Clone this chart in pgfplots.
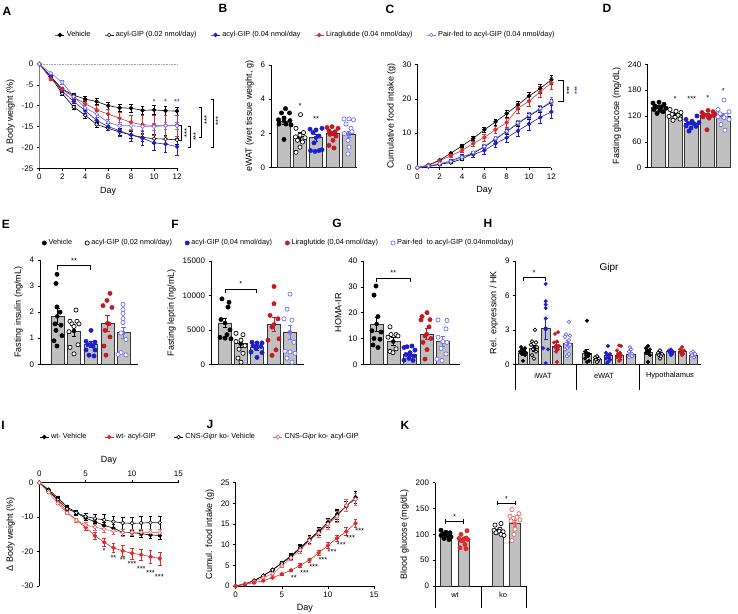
\documentclass[border=0pt]{standalone}
\usepackage{pgfplots}
\pgfplotsset{compat=1.18}
\usepackage{fontspec}
\setmainfont{Liberation Sans}
\definecolor{cblue}{RGB}{30,30,205}
\definecolor{cred}{RGB}{195,25,35}
\definecolor{lblue}{RGB}{110,110,245}
\definecolor{ired}{RGB}{220,45,45}
\definecolor{lred}{RGB}{235,100,100}
\definecolor{barg}{RGB}{192,192,192}
\newcommand{\tfs}{\fontsize{8}{9}\selectfont}
\newcommand{\sfs}{\fontsize{7.5}{8}\selectfont}
\newcommand{\lfs}{\fontsize{9}{10}\selectfont}
\newcommand{\gfs}{\fontsize{7.3}{8}\selectfont}
\newcommand{\pfs}{\fontsize{12}{13}\selectfont\bfseries}
\pgfplotsset{
  panel/.style={scale only axis, clip=false, anchor=south west,
    axis x line*=bottom, axis y line*=left,
    axis line style={line width=0.6pt}, tick style={line width=0.5pt, black},
    tick align=outside, major tick length=2.5pt,
    tick label style={font=\tfs}, label style={font=\lfs},
    /pgf/number format/assume math mode=true, /pgf/number format/1000 sep={},
    scaled y ticks=false, scaled x ticks=false},
  barpanel/.style={panel, ymin=0, xtick=\empty},
  dots/.style={only marks, color=#1, mark=*, mark size=2.2pt, mark options={draw=#1, fill=#1, line width=0.4pt}},
  odots/.style={only marks, color=#1, mark=*, mark size=2.1pt, mark options={draw=#1, fill=white, line width=0.7pt}},
  bars/.style={ybar, bar shift=0pt, bar width=#1, fill=barg, draw=black!80, line width=0.6pt, forget plot},
  ebar/.style={color=#1, only marks, mark=none, forget plot,
    /pgfplots/error bars/y dir=both, /pgfplots/error bars/y explicit,
    /pgfplots/error bars/error bar style={line width=0.6pt},
    /pgfplots/error bars/error mark options={rotate=90, mark size=2.2pt, line width=0.6pt}},
  ln/.style 2 args={color=#1, mark=*, mark size=1.9pt, line width=0.6pt, mark options={fill=#2, solid, line width=0.6pt},
    /pgfplots/error bars/y dir=both, /pgfplots/error bars/y explicit,
    /pgfplots/error bars/error bar style={line width=0.5pt},
    /pgfplots/error bars/error mark options={rotate=90, mark size=1.9pt, line width=0.5pt}},
}
\begin{document}
\begin{tikzpicture}[x=1pt,y=1pt]
% panel letters
\node[font=\pfs] at (7pt,602pt) {A};
\node[font=\pfs] at (223pt,605pt) {B};
\node[font=\pfs] at (390pt,604pt) {C};
\node[font=\pfs] at (607pt,605pt) {D};
\node[font=\pfs] at (6pt,389pt) {E};
\node[font=\pfs] at (175pt,389pt) {F};
\node[font=\pfs] at (337pt,390pt) {G};
\node[font=\pfs] at (488pt,390pt) {H};
\node[font=\pfs] at (3pt,188pt) {I};
\node[font=\pfs] at (210pt,189pt) {J};
\node[font=\pfs] at (405pt,188pt) {K};

% ---------------- A ----------------
\begin{axis}[panel, at={(39.3pt,444.7pt)}, width=137.7pt, height=104.3pt,
  xmin=0, xmax=12, ymin=-25, ymax=0, xtick={0,2,...,12}, ytick={-25,-20,...,0},
  xlabel={Day}, ylabel={Δ Body weight (\%)},
  y axis line style={gray, line width=1.2pt},
  legend style={draw=none, fill=none, font=\gfs, anchor=west, at={(0.114,1.278)}, inner sep=0pt,
    /tikz/every even column/.append style={column sep=12pt}},
  legend columns=-1,
  legend image code/.code={\draw[mark repeat=2,mark phase=2,#1] plot coordinates {(0pt,0pt) (4.5pt,0pt) (9pt,0pt)};}]
\addplot[gray!70, densely dotted, line width=0.6pt, forget plot] coordinates {(0,0) (12,0)};
\addplot[ln={black}{black}] coordinates {(0,0)+-(0,0) (1,-3)+-(0,0.3) (2,-6)+-(0,0.4) (3,-7.5)+-(0,0.6) (4,-8.4)+-(0,0.6) (5,-9)+-(0,0.7) (6,-10)+-(0,0.8) (7,-10.5)+-(0,0.8) (8,-10.6)+-(0,0.9) (9,-11.1)+-(0,0.9) (10,-11)+-(0,1) (11,-11.2)+-(0,1) (12,-11.3)+-(0,1)};
\addlegendentry{Vehicle}
\addplot[ln={black}{white}] coordinates {(0,0)+-(0,0) (1,-3.1)+-(0,0.3) (2,-7.1)+-(0,0.4) (3,-10.3)+-(0,0.5) (4,-12.3)+-(0,0.6) (5,-14.5)+-(0,0.6) (6,-15.4)+-(0,0.6) (7,-16.3)+-(0,0.8) (8,-17)+-(0,0.8) (9,-17.6)+-(0,0.9) (10,-17.9)+-(0,1) (11,-18)+-(0,1) (12,-18.2)+-(0,1)};
\addlegendentry{acyl-GIP (0.02 nmol/day)}
\addplot[ln={cblue}{cblue}] coordinates {(0,0)+-(0,0) (1,-3)+-(0,0.3) (2,-6.5)+-(0,0.4) (3,-9)+-(0,0.5) (4,-11.2)+-(0,0.7) (5,-13.5)+-(0,0.8) (6,-15)+-(0,0.9) (7,-16)+-(0,1.2) (8,-17)+-(0,1.4) (9,-17.8)+-(0,1.6) (10,-18.9)+-(0,1.8) (11,-19.2)+-(0,1.9) (12,-19.8)+-(0,2)};
\addlegendentry{acyl-GIP (0.04 nmol/day}
\addplot[ln={ired}{ired}] coordinates {(0,0)+-(0,0) (1,-3.6)+-(0,0.3) (2,-6)+-(0,0.4) (3,-8)+-(0,0.6) (4,-9.5)+-(0,0.8) (5,-11)+-(0,1) (6,-12)+-(0,1.2) (7,-13)+-(0,1.5) (8,-14)+-(0,1.8) (9,-14.6)+-(0,2.2) (10,-14.7)+-(0,2.4) (11,-14.7)+-(0,2.5) (12,-14.7)+-(0,2.5)};
\addlegendentry{Liraglutide (0.04 nmol/day)}
\addplot[ln={lblue}{white}] coordinates {(0,0)+-(0,0) (1,-2.2)+-(0,0.3) (2,-4.4)+-(0,0.4) (3,-7.8)+-(0,0.5) (4,-10.5)+-(0,0.6) (5,-12)+-(0,0.7) (6,-14)+-(0,0.7) (7,-14.8)+-(0,0.8) (8,-14.8)+-(0,0.8) (9,-15)+-(0,0.8) (10,-15)+-(0,0.8) (11,-14.8)+-(0,0.8) (12,-14.8)+-(0,0.8)};
\addlegendentry{Pair-fed to acyl-GIP (0.04 nmol/day)}
\node[cblue, font=\sfs] at (axis cs:10,-9.2) {*};
\node[cblue, font=\sfs] at (axis cs:11,-9.2) {*};
\node[cblue, font=\sfs] at (axis cs:12,-9.2) {**};
\draw[line width=0.5pt] (axis cs:12.2,-14.8) -- (axis cs:12.41,-14.8) -- (axis cs:12.41,-18.2) -- (axis cs:12.2,-18.2);
\node[rotate=90, font=\sfs] at (axis cs:12.85,-16.5) {***};
\draw[line width=0.5pt] (axis cs:12.98,-15) -- (axis cs:13.19,-15) -- (axis cs:13.19,-19.9) -- (axis cs:12.98,-19.9);
\node[rotate=90, font=\sfs] at (axis cs:13.63,-17.4) {***};
\draw[line width=0.5pt] (axis cs:13.94,-10.4) -- (axis cs:14.15,-10.4) -- (axis cs:14.15,-17.6) -- (axis cs:13.94,-17.6);
\node[rotate=90, font=\sfs] at (axis cs:14.6,-13.5) {***};
\draw[line width=0.5pt] (axis cs:14.93,-8.4) -- (axis cs:15.14,-8.4) -- (axis cs:15.14,-19.9) -- (axis cs:14.93,-19.9);
\node[rotate=90, font=\sfs] at (axis cs:15.6,-13.6) {***};
\end{axis}

% ---------------- B ----------------
\begin{axis}[barpanel, at={(271pt,445.3pt)}, width=85.7pt, height=102.7pt,
  xmin=271, xmax=356.7, ymax=6, ytick={0,2,4,6}, ylabel={eWAT (wet tissue weight, g)}]
\addplot[bars=13pt] coordinates {(284,2.73) (300,1.82) (316,1.75) (332.7,2.0) (348.7,1.95)};
\addplot[ebar=black] coordinates {(284,2.73)+-(0,0.17) (300,1.82)+-(0,0.22)};
\addplot[ebar=cblue] coordinates {(316,1.75)+-(0,0.18)};
\addplot[ebar=cred] coordinates {(332.7,2.0)+-(0,0.12)};
\addplot[ebar=lblue] coordinates {(348.7,1.95)+-(0,0.2)};
\addplot[dots=black] coordinates {(285.5,3.45) (281.5,3.2) (289.5,3.2) (278.5,2.8) (284,2.9) (290,2.75) (279,2.55) (286,2.55) (291,2.5) (284,1.65)};
\addplot[odots=black] coordinates {(300.5,3.1) (296,2.3) (303.5,2.05) (295.5,1.8) (300,1.9) (305,1.75) (297.5,1.6) (302.5,1.5) (300,1.2) (296,0.9)};
\addplot[dots=cblue] coordinates {(310,2.25) (316,2.2) (322,2.3) (313,2.05) (319,1.85) (314,1.45) (310.5,1.0) (315,0.95) (319,1.0) (322,1.05)};
\addplot[dots=cred] coordinates {(327,2.35) (332,2.4) (338,2.3) (329,2.15) (335,2.1) (330,1.95) (336,1.85) (333,1.6) (329,1.3) (334,1.15)};
\addplot[odots=lblue] coordinates {(344,2.85) (349,2.85) (353.5,2.8) (346,2.55) (351,2.3) (344.5,2.0) (352,2.1) (348,1.6) (349,1.2) (348,0.8)};
\node[font=\sfs] at (axis cs:300,3.6) {*};
\node[font=\sfs] at (axis cs:316,2.85) {**};
\end{axis}

% ---------------- C ----------------
\begin{axis}[panel, at={(417.3pt,445.3pt)}, width=134.1pt, height=103.4pt,
  xmin=0, xmax=12, ymin=0, ymax=30, xtick={0,2,...,12}, ytick={0,10,20,30},
  xlabel={Day}, ylabel={Cumulative food intake (g)}]
\addplot[ln={black}{black}] coordinates {(0,0)+-(0,0) (1,0.8)+-(0,0.1) (2,2.2)+-(0,0.2) (3,4.2)+-(0,0.4) (4,6.3)+-(0,0.5) (5,8.5)+-(0,0.6) (6,11)+-(0,0.8) (7,13.3)+-(0,0.9) (8,15.7)+-(0,1) (9,18.2)+-(0,1.1) (10,20.8)+-(0,1.2) (11,23)+-(0,1.3) (12,25.5)+-(0,1.4)};
\addplot[ln={black}{white}] coordinates {(0,0)+-(0,0) (1,0.5)+-(0,0.1) (2,1)+-(0,0.1) (3,1.5)+-(0,0.2) (4,2.5)+-(0,0.3) (5,4.2)+-(0,0.4) (6,6)+-(0,0.5) (7,8.3)+-(0,0.6) (8,10.5)+-(0,0.7) (9,12.8)+-(0,0.8) (10,15)+-(0,0.8) (11,17)+-(0,0.9) (12,19)+-(0,1)};
\addplot[ln={cblue}{cblue}] coordinates {(0,0)+-(0,0) (1,0.3)+-(0,0.1) (2,1)+-(0,0.3) (3,2)+-(0,0.4) (4,3.3)+-(0,0.6) (5,3.8)+-(0,0.8) (6,5)+-(0,1) (7,7)+-(0,1.2) (8,8.7)+-(0,1.3) (9,10.7)+-(0,1.5) (10,12.7)+-(0,1.8) (11,14.6)+-(0,1.8) (12,16.2)+-(0,1.9)};
\addplot[ln={ired}{ired}] coordinates {(0,0)+-(0,0) (1,0.7)+-(0,0.1) (2,2)+-(0,0.2) (3,3.5)+-(0,0.4) (4,5)+-(0,0.6) (5,7)+-(0,0.8) (6,8.8)+-(0,1) (7,11)+-(0,1.1) (8,13.1)+-(0,1.3) (9,17.2)+-(0,1.4) (10,19.3)+-(0,1.5) (11,22)+-(0,1.6) (12,24.6)+-(0,1.7)};
\addplot[ln={lblue}{white}] coordinates {(0,0)+-(0,0) (1,0.5)+-(0,0.1) (2,1.2)+-(0,0.1) (3,1.8)+-(0,0.2) (4,3)+-(0,0.3) (5,4.4)+-(0,0.4) (6,6.2)+-(0,0.5) (7,8.5)+-(0,0.6) (8,10.6)+-(0,0.7) (9,13)+-(0,0.8) (10,15.2)+-(0,0.9) (11,17.2)+-(0,0.9) (12,19.3)+-(0,1)};
\draw[line width=0.5pt] (axis cs:12.55,25.4) -- (axis cs:13.04,25.4) -- (axis cs:13.04,19.4) -- (axis cs:12.55,19.4);
\node[rotate=90, font=\sfs] at (axis cs:13.6,22.4) {***};
\node[rotate=90, font=\sfs, cblue] at (axis cs:14.3,22.4) {***};
\end{axis}

% ---------------- D ----------------
\begin{axis}[barpanel, at={(647.3pt,445.3pt)}, width=82.7pt, height=103.4pt,
  xmin=647.3, xmax=730, ymax=240, ytick={0,60,...,240}, ylabel={Fasting glucose (mg/dL)}]
\addplot[bars=14pt] coordinates {(658.3,141) (675,122) (691.7,104) (707.7,122) (723.3,120)};
\addplot[ebar=black] coordinates {(658.3,141)+-(0,3) (675,122)+-(0,3)};
\addplot[ebar=cblue] coordinates {(691.7,104)+-(0,4)};
\addplot[ebar=cred] coordinates {(707.7,122)+-(0,4)};
\addplot[ebar=lblue] coordinates {(723.3,120)+-(0,6)};
\addplot[dots=black] coordinates {(653,150) (659,152) (664,147) (655,143) (661,141) (666,138) (654,135) (660,133) (657,126) (663,130)};
\addplot[odots=black] coordinates {(670,135) (676,131) (681,128) (672,124) (678,122) (669,119) (675,117) (680,113) (673,110)};
\addplot[dots=cblue] coordinates {(686,112) (692,108) (697,120) (688,103) (694,102) (699,105) (686,97) (691,92) (696,96) (689,85)};
\addplot[dots=cred] coordinates {(702,128) (708,133) (713,130) (704,123) (710,120) (715,125) (703,118) (709,115) (714,121) (707,88)};
\addplot[odots=lblue] coordinates {(718,135) (724,157) (729,130) (720,125) (726,122) (718,118) (724,116) (729,112) (721,100) (725,87)};
\node[font=\sfs] at (axis cs:675,159) {*};
\node[font=\sfs] at (axis cs:691.7,159) {***};
\node[font=\sfs] at (axis cs:707.7,161) {*};
\node[font=\sfs] at (axis cs:723.3,179) {*};
\end{axis}

% ---------------- E ----------------
\begin{axis}[barpanel, at={(40pt,248.7pt)}, width=98pt, height=104.3pt,
  xmin=40, xmax=138, ymax=4, ytick={0,1,2,3,4}, ylabel={Fasting insulin (ng/mL)},
  legend style={draw=none, fill=none, font=\gfs, anchor=west, at={(0.02,1.163)}, inner sep=0pt,
    /tikz/every even column/.append style={column sep=11pt}},
  legend columns=-1]
\addplot[bars=13pt] coordinates {(57.3,1.84) (74,1.28) (90.7,0.77) (107.3,1.57) (123.3,1.21)};
\addplot[ebar=black] coordinates {(57.3,1.84)+-(0,0.32) (74,1.28)+-(0,0.2)};
\addplot[ebar=cblue] coordinates {(90.7,0.77)+-(0,0.1)};
\addplot[ebar=cred] coordinates {(107.3,1.57)+-(0,0.3)};
\addplot[ebar=lblue] coordinates {(123.3,1.21)+-(0,0.22)};
\addplot[dots=black] coordinates {(57,3.45) (56,3.1) (57,2.2) (60,2.0) (55,1.55) (61,1.5) (56,1.3) (62,1.1) (54,0.9) (57,0.7)};
\addlegendentry{Vehicle}
\addplot[odots=black] coordinates {(76,2.08) (70,1.65) (77,1.65) (72,1.55) (79,1.55) (74,1.45) (69,1.25) (78,0.75) (70,0.65) (74,0.4)};
\addlegendentry{acyl-GIP (0,02 nmol/day)}
\addplot[dots=cblue] coordinates {(91,1.3) (86,0.88) (95,0.85) (88,0.75) (93,0.7) (86,0.55) (95,0.55) (89,0.35) (94,0.32)};
\addlegendentry{acyl-GIP (0,04 nmol/day)}
\addplot[dots=cred] coordinates {(110,2.72) (107,2.45) (103,2.25) (112,2.18) (109,1.55) (105,1.3) (110,1.05) (104,0.7) (106,0.35)};
\addlegendentry{Liraglutide (0,04 nmol/day)}
\addplot[odots=lblue] coordinates {(123,2.3) (123,2.1) (123,1.95) (123,1.75) (123,1.6) (121,1.2) (126,0.95) (121,0.45) (118,0.38) (126,0.36)};
\addlegendentry{Pair-fed\ \ to acyl-GIP (0.04nmol/day)}
\draw[line width=0.5pt] (axis cs:57.3,3.62) -- (axis cs:57.3,3.78) -- (axis cs:90.7,3.78) -- (axis cs:90.7,3.62);
\node[font=\sfs] at (axis cs:74,3.98) {**};
\end{axis}

% ---------------- F ----------------
\begin{axis}[barpanel, at={(211pt,248.7pt)}, width=93pt, height=103.3pt,
  xmin=211, xmax=304, ymax=15000, ytick={0,5000,10000,15000}, ylabel={Fasting leptin (ng/mL)}]
\addplot[bars=13pt] coordinates {(225,6000) (240.7,3000) (256.7,2400) (274,5800) (290,4650)};
\addplot[ebar=black] coordinates {(225,6000)+-(0,700) (240.7,3000)+-(0,500)};
\addplot[ebar=cblue] coordinates {(256.7,2400)+-(0,300)};
\addplot[ebar=cred] coordinates {(274,5800)+-(0,1000)};
\addplot[ebar=lblue] coordinates {(290,4650)+-(0,1000)};
\addplot[dots=black] coordinates {(222,9500) (229,9000) (228,8300) (221,6500) (230,5000) (227,4300) (220,3900) (225,3800) (231,3700)};
\addplot[odots=black] coordinates {(236,4500) (243,4300) (241,3500) (236,3300) (245,2700) (239,2200) (243,1600) (238,900) (241,300)};
\addplot[dots=cblue] coordinates {(252,3200) (257,3100) (262,3100) (253,2700) (261,2600) (256,2300) (251,1800) (262,1700) (257,1000)};
\addplot[dots=cred] coordinates {(274,11300) (274,8800) (270,7100) (278,6600) (272,5400) (279,3700) (268,3500) (276,2100) (272,1300)};
\addplot[odots=lblue] coordinates {(290,10200) (287,8000) (284,6600) (292,6400) (294,3200) (285,1900) (290,1800) (295,1600) (287,900) (292,300)};
\draw[line width=0.5pt] (axis cs:225,10400) -- (axis cs:225,10900) -- (axis cs:256.7,10900) -- (axis cs:256.7,10400);
\node[font=\sfs] at (axis cs:240.8,11700) {*};
\end{axis}

% ---------------- G ----------------
\begin{axis}[barpanel, at={(363.3pt,248.7pt)}, width=96.7pt, height=103.3pt,
  xmin=363.3, xmax=460, ymax=40, ytick={0,10,20,30,40}, ylabel={HOMA-IR}]
\addplot[bars=13pt] coordinates {(376.7,15.6) (393.3,8.8) (410,3.9) (426.7,11.7) (442.7,8.8)};
\addplot[ebar=black] coordinates {(376.7,15.6)+-(0,2.7) (393.3,8.8)+-(0,1.5)};
\addplot[ebar=cblue] coordinates {(410,3.9)+-(0,0.7)};
\addplot[ebar=cred] coordinates {(426.7,11.7)+-(0,2.2)};
\addplot[ebar=lblue] coordinates {(442.7,8.8)+-(0,2)};
\addplot[dots=black] coordinates {(376,30.3) (374,26.8) (378,18.5) (372,13) (381,12.5) (374,10) (380,9.7) (373,7.5) (378,6.5)};
\addplot[odots=black] coordinates {(390,14.5) (396,11.5) (391,11.5) (398,11) (388,10.5) (396,6) (390,5) (393,4.5)};
\addplot[dots=cblue] coordinates {(412,7.1) (407,6.8) (404,6.5) (415,5.5) (410,4.5) (406,3.8) (414,3.2) (409,2.3) (404,1.6) (413,1.5)};
\addplot[dots=cred] coordinates {(427,20) (422,18.5) (430,17.3) (421,17.2) (429,14.5) (425,11) (431,10) (423,8.5) (427,5.7) (425,2)};
\addplot[odots=lblue] coordinates {(438,17.2) (447,17) (446,13.7) (438,10.5) (443,8.8) (447,8.5) (441,6.2) (446,4) (437,2) (442,1.5)};
\draw[line width=0.5pt] (axis cs:376.7,32) -- (axis cs:376.7,33.3) -- (axis cs:410,33.3) -- (axis cs:410,32);
\node[font=\sfs] at (axis cs:393.3,35.3) {**};
\end{axis}

% ---------------- H ----------------
\begin{axis}[barpanel, at={(515.7pt,248.7pt)}, width=185pt, height=103.3pt,
  xmin=515.7, xmax=700.7, ymax=9, ytick={0,3,6,9}, ylabel={Rel. expression / HK},
  dots/.append style={mark size=1.8pt}, odots/.append style={mark size=1.8pt}]
\addplot[bars=8.7pt] coordinates {(523,1.0) (534,1.4) (545.7,3.1) (556.7,1.6) (567.7,1.8) (586.7,0.95) (597.3,0.45) (608.3,0.75) (619.3,0.8) (630.7,0.85) (648.3,1.05) (660,0.85) (671,1.1) (682.3,1.1) (693.3,0.8)};
\addplot[ebar=black] coordinates {(523,1.0)+-(0,0.1) (534,1.4)+-(0,0.25) (586.7,0.95)+-(0,0.35) (597.3,0.45)+-(0,0.1) (648.3,1.05)+-(0,0.15) (660,0.85)+-(0,0.1)};
\addplot[ebar=cblue] coordinates {(545.7,3.1)+-(0,0.9) (608.3,0.75)+-(0,0.15) (671,1.1)+-(0,0.05)};
\addplot[ebar=cred] coordinates {(556.7,1.6)+-(0,0.3) (619.3,0.8)+-(0,0.15) (682.3,1.1)+-(0,0.1)};
\addplot[ebar=lblue] coordinates {(567.7,1.8)+-(0,0.3) (630.7,0.85)+-(0,0.1) (693.3,0.8)+-(0,0.05)};
\addplot[dots=black] coordinates {(521,1.5) (525,1.4) (522,1.3) (524,1.2) (520,1.1) (526,1.0) (522,0.9) (525,0.8) (523,0.3)
  (587,3.8) (585,1.1) (589,0.9) (586,0.8) (588,0.7) (585,0.5) (589,0.3) (587,0.2)
  (648,1.6) (646,1.4) (650,1.3) (647,1.2) (649,1.1) (646,1.0) (650,0.8) (648,0.2)};
\addplot[odots=black] coordinates {(535,3.0) (532,2.0) (536,1.9) (531,1.7) (537,1.5) (533,1.3) (536,1.1) (532,0.8) (534,0.5)
  (597,0.7) (595,0.6) (599,0.5) (596,0.4) (598,0.3) (597,0.2)
  (660,1.2) (658,1.0) (662,0.9) (659,0.8) (661,0.7) (660,0.5)};
\addplot[dots=cblue] coordinates {(545.7,7.0) (545.7,5.5) (545.7,5.2) (545.7,4.9) (545.7,4.0) (543,1.4) (548,1.3) (545.7,0.1)
  (608,1.6) (606,1.0) (610,0.9) (607,0.8) (609,0.6) (606,0.5) (610,0.4) (608,0.2) (607,0.1)
  (671,1.3) (669,1.2) (673,1.1) (670,1.0) (672,0.9) (671,0.8)};
\addplot[dots=cred] coordinates {(558,2.8) (555,2.65) (557,2.0) (554,1.9) (559,1.6) (555,1.5) (558,1.3) (556,1.1) (557,0.2)
  (619,1.65) (621,1.6) (617,1.2) (620,1.0) (618,0.9) (621,0.8) (617,0.6) (620,0.4) (619,0.3)
  (682,1.5) (680,1.3) (684,1.2) (681,1.0) (683,0.9) (682,0.8)};
\addplot[odots=lblue] coordinates {(569,3.7) (566,2.6) (570,2.5) (565,2.4) (569,2.1) (566,1.8) (570,1.7) (567,1.4) (565,1.3) (569,0.9) (567,0.7)
  (630,1.5) (631,1.3) (629,1.1) (632,0.9) (630,0.8) (632,0.7) (629,0.6)
  (693,1.1) (691,1.0) (695,0.9) (692,0.8) (694,0.6)};
\draw[line width=0.6pt] (axis cs:515.7,0) -- (axis cs:515.7,-2.24);
\draw[line width=0.6pt] (axis cs:576.7,0) -- (axis cs:576.7,-2.24);
\draw[line width=0.6pt] (axis cs:639.3,0) -- (axis cs:639.3,-2.24);
\node[font=\sfs] at (axis cs:543,-1.0) {iWAT};
\node[font=\sfs] at (axis cs:604,-1.0) {eWAT};
\node[font=\sfs] at (axis cs:670,-1.0) {Hypothalamus};
\node[font=\fontsize{10}{11}\selectfont] at (axis cs:609,8.4) {Gipr};
\draw[line width=0.5pt] (axis cs:523,7.3) -- (axis cs:523,7.6) -- (axis cs:545.7,7.6) -- (axis cs:545.7,7.3);
\node[font=\sfs] at (axis cs:534,8.0) {*};
\end{axis}

% ---------------- I ----------------
\begin{axis}[panel, at={(39.3pt,27pt)}, width=139pt, height=103.3pt,
  axis x line*=top, xmin=0, xmax=15, ymin=-30, ymax=0, xtick={0,5,10,15}, ytick={-30,-20,-10,0},
  xlabel={Day}, ylabel={Δ Body weight (\%)},
  legend style={draw=none, fill=none, font=\gfs, anchor=west, at={(0.0,1.442)}, inner sep=0pt,
    /tikz/every even column/.append style={column sep=16pt}},
  legend columns=-1,
  legend image code/.code={\draw[mark repeat=2,mark phase=2,#1] plot coordinates {(0pt,0pt) (4.5pt,0pt) (9pt,0pt)};}]
\addplot[ln={black}{black}] coordinates {(0,0)+-(0,0) (1,-2)+-(0,0.3) (2,-4.4)+-(0,0.4) (3,-7)+-(0,0.5) (4,-8.7)+-(0,0.6) (5,-10.3)+-(0,0.7) (6,-11.3)+-(0,0.8) (7,-12.4)+-(0,0.9) (8,-13.2)+-(0,1) (9,-14.4)+-(0,1) (10,-14.5)+-(0,1) (11,-14.8)+-(0,1) (12,-15.2)+-(0,1) (13,-15.3)+-(0,1)};
\addlegendentry{wt- Vehicle}
\addplot[ln={ired}{ired}] coordinates {(0,0)+-(0,0) (1,-2.5)+-(0,0.3) (2,-5.2)+-(0,0.4) (3,-8.6)+-(0,0.6) (4,-10.9)+-(0,0.7) (5,-13)+-(0,0.8) (6,-15.4)+-(0,1) (7,-17.3)+-(0,1.2) (8,-18.9)+-(0,1.4) (9,-19.8)+-(0,1.5) (10,-20.5)+-(0,1.6) (11,-20.9)+-(0,1.7) (12,-21.5)+-(0,1.8) (13,-22)+-(0,1.9)};
\addlegendentry{wt- acyl-GIP}
\addplot[ln={black}{white}] coordinates {(0,0)+-(0,0) (1,-2.3)+-(0,0.3) (2,-4.9)+-(0,0.4) (3,-7.6)+-(0,0.6) (4,-8.7)+-(0,0.8) (5,-9.8)+-(0,1) (6,-10.4)+-(0,1.3) (7,-10.8)+-(0,1.5) (8,-11.3)+-(0,1.7) (9,-11.7)+-(0,1.8) (10,-11.8)+-(0,1.9) (11,-11.7)+-(0,2) (12,-11.6)+-(0,2) (13,-11.6)+-(0,2)};
\addlegendentry{CNS-\textit{Gipr} ko- Vehicle}
\addplot[ln={lred}{white}] coordinates {(0,0)+-(0,0) (1,-2.8)+-(0,0.3) (2,-6)+-(0,0.4) (3,-8.8)+-(0,0.5) (4,-10.9)+-(0,0.6) (5,-12.3)+-(0,0.7) (6,-12.9)+-(0,0.8) (7,-13.5)+-(0,0.9) (8,-14)+-(0,1) (9,-14.5)+-(0,1) (10,-14.4)+-(0,1) (11,-14.4)+-(0,1) (12,-14.4)+-(0,1) (13,-14.5)+-(0,1)};
\addlegendentry{CNS-\textit{Gipr} ko- acyl-GIP}
\node[font=\sfs] at (axis cs:7,-19.8) {*};
\node[font=\sfs] at (axis cs:8,-21.7) {**};
\node[font=\sfs] at (axis cs:9,-22.5) {**};
\node[font=\sfs] at (axis cs:10,-23.6) {***};
\node[font=\sfs] at (axis cs:11,-24.9) {***};
\node[font=\sfs] at (axis cs:12,-26.2) {***};
\node[font=\sfs] at (axis cs:12.95,-27.5) {***};
\end{axis}

% ---------------- J ----------------
\begin{axis}[panel, at={(235.7pt,27pt)}, width=138.3pt, height=103.3pt,
  xmin=0, xmax=15, ymin=0, ymax=25, xtick={0,5,10,15}, ytick={0,5,...,25},
  xlabel={Day}, ylabel={Cumul. food intake (g)}]
\addplot[ln={black}{black}] coordinates {(0,0)+-(0,0) (1,0.5)+-(0,0.1) (2,1.3)+-(0,0.1) (3,2.5)+-(0,0.2) (4,3.9)+-(0,0.3) (5,5.6)+-(0,0.4) (6,7.3)+-(0,0.6) (7,9.3)+-(0,0.8) (8,11.3)+-(0,0.9) (9,13.3)+-(0,1) (10,15.4)+-(0,1.1) (11,17.4)+-(0,1.2) (12,19.3)+-(0,1.3) (13,21.5)+-(0,1.5)};
\addplot[ln={black}{white}] coordinates {(0,0)+-(0,0) (1,0.5)+-(0,0.1) (2,1.3)+-(0,0.1) (3,2.5)+-(0,0.2) (4,3.9)+-(0,0.3) (5,5.5)+-(0,0.4) (6,7.1)+-(0,0.6) (7,9.1)+-(0,0.8) (8,11.1)+-(0,1) (9,13)+-(0,1.1) (10,15)+-(0,1.2) (11,17)+-(0,1.3) (12,19.5)+-(0,1.4) (13,21)+-(0,1.5)};
\addplot[ln={lred}{white}] coordinates {(0,0)+-(0,0) (1,0.5)+-(0,0.1) (2,1.1)+-(0,0.1) (3,2)+-(0,0.2) (4,3)+-(0,0.3) (5,4.9)+-(0,0.4) (6,6.8)+-(0,0.6) (7,8.7)+-(0,0.8) (8,11)+-(0,1) (9,12.8)+-(0,1.1) (10,15)+-(0,1.2) (11,16.8)+-(0,1.3) (12,19.5)+-(0,1.4) (13,21)+-(0,1.5)};
\addplot[ln={ired}{ired}] coordinates {(0,0)+-(0,0) (1,0.4)+-(0,0.1) (2,0.8)+-(0,0.1) (3,1.3)+-(0,0.1) (4,2)+-(0,0.2) (5,2.9)+-(0,0.2) (6,3.8)+-(0,0.3) (7,5)+-(0,0.4) (8,6.3)+-(0,0.5) (9,8)+-(0,0.6) (10,9.8)+-(0,0.7) (11,11.6)+-(0,0.8) (12,13.2)+-(0,0.9) (13,15.2)+-(0,1)};
\node[font=\sfs, anchor=west] at (axis cs:5.6,2.0) {**};
\node[font=\sfs, anchor=west] at (axis cs:6.6,3.2) {***};
\node[font=\sfs, anchor=west] at (axis cs:7.6,4.7) {***};
\node[font=\sfs, anchor=west] at (axis cs:8.6,6.4) {***};
\node[font=\sfs, anchor=west] at (axis cs:9.6,8.2) {***};
\node[font=\sfs, anchor=west] at (axis cs:10.6,10.0) {***};
\node[font=\sfs, anchor=west] at (axis cs:11.6,11.6) {***};
\node[font=\sfs, anchor=west] at (axis cs:12.6,13.4) {***};
\end{axis}

% ---------------- K ----------------
\begin{axis}[barpanel, at={(435pt,27pt)}, width=91pt, height=103.3pt,
  xmin=435, xmax=526, ymax=200, ytick={0,50,...,200}, ylabel={Blood glucose (mg/dL)}]
\addplot[bars=11pt] coordinates {(445.7,100) (463.3,89) (497.7,107) (515,121)};
\addplot[ebar=black] coordinates {(445.7,100)+-(0,2) (497.7,107)+-(0,2)};
\addplot[ebar=ired] coordinates {(463.3,89)+-(0,4)};
\addplot[ebar=lred] coordinates {(515,121)+-(0,6)};
\addplot[dots=black] coordinates {(441,108) (446,104) (450,103) (443,101) (448,100) (441,98) (447,97) (451,95) (444,92) (449,90)};
\addplot[dots=ired] coordinates {(467,107) (461,100) (466,93) (459,92) (464,91) (468,90) (461,88) (465,80) (460,74) (466,72)};
\addplot[odots=black] coordinates {(501,121) (495,118) (500,110) (494,108) (499,106) (503,105) (496,103) (501,100) (504,98)};
\addplot[odots=lred] coordinates {(512,148) (519,140) (510,135) (517,133) (513,131) (520,128) (511,126) (515,110) (514,100) (512,88)};
\draw[line width=0.5pt] (axis cs:445.7,121) -- (axis cs:445.7,129);
\draw[line width=0.5pt] (axis cs:463.3,121) -- (axis cs:463.3,129);
\draw[line width=0.5pt] (axis cs:445.7,125) -- (axis cs:463.3,125);
\node[font=\sfs] at (axis cs:454.5,134) {*};
\draw[line width=0.5pt] (axis cs:497.7,156) -- (axis cs:497.7,164);
\draw[line width=0.5pt] (axis cs:515,156) -- (axis cs:515,164);
\draw[line width=0.5pt] (axis cs:497.7,160) -- (axis cs:515,160);
\node[font=\sfs] at (axis cs:506.3,169) {*};
\draw[line width=0.6pt] (axis cs:435,0) -- (axis cs:435,-42.6);
\draw[line width=0.6pt] (axis cs:481.7,0) -- (axis cs:481.7,-42.6);
\draw[line width=0.6pt] (axis cs:526,0) -- (axis cs:526,-42.6);
\node[font=\sfs] at (axis cs:455,-17.4) {wt};
\node[font=\sfs] at (axis cs:503,-17.4) {ko};
\end{axis}

\pgfresetboundingbox
\path[use as bounding box] (0pt,0pt) rectangle (738pt,613pt);
\end{tikzpicture}
\end{document}
